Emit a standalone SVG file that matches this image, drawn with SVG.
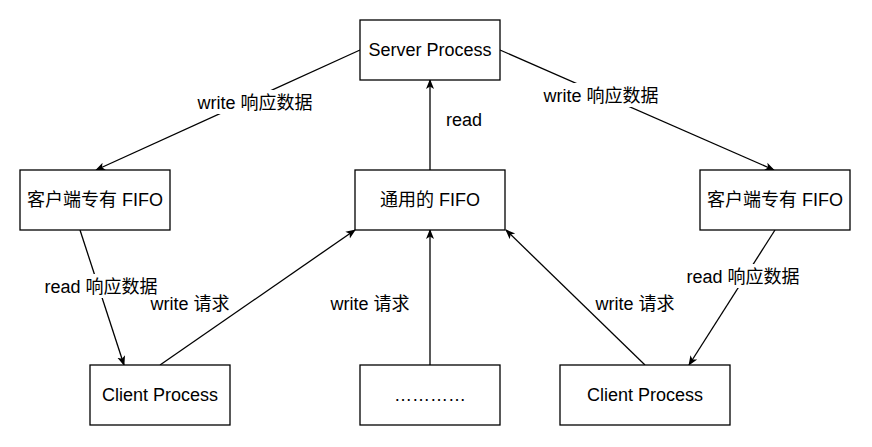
<svg xmlns="http://www.w3.org/2000/svg" width="872" height="447" viewBox="0 0 872 447">
<style>
.box{fill:#fff;stroke:#000;stroke-width:1.3}
.t{font-family:"Liberation Sans","Noto Sans CJK SC",sans-serif;font-size:18px;fill:#000;text-anchor:middle}
.e{fill:none;stroke:#000;stroke-width:1.3;marker-end:url(#arr)}
.bg{fill:#fff}
</style>
<defs>
<marker id="arr" viewBox="0 0 10 10" refX="9" refY="5" markerWidth="10" markerHeight="10" markerUnits="userSpaceOnUse" orient="auto">
<path d="M0,1 L10,5 L0,9 L2.5,5 Z" fill="#000"/>
</marker>
</defs>
<g id="connectors">
<line class="e" x1="360" y1="50" x2="96" y2="170"/>
<line class="e" x1="500" y1="50" x2="774" y2="170"/>
<line class="e" x1="430" y1="170" x2="430" y2="80"/>
<line class="e" x1="80" y1="230" x2="124" y2="365"/>
<line class="e" x1="160" y1="365" x2="355" y2="230"/>
<line class="e" x1="430" y1="365" x2="430" y2="230"/>
<line class="e" x1="645" y1="365" x2="506" y2="230"/>
<line class="e" x1="775" y1="230" x2="689" y2="365"/>
</g>
<g id="labels">
<rect class="bg" x="197" y="90" width="117" height="24"/>
<text class="t" x="255" y="109">write 响应数据</text>
<rect class="bg" x="543" y="83" width="117" height="24"/>
<text class="t" x="601" y="102">write 响应数据</text>
<text class="t" x="464" y="126">read</text>
<rect class="bg" x="44" y="274" width="115" height="24"/>
<text class="t" x="101" y="293">read 响应数据</text>
<rect class="bg" x="686" y="264" width="115" height="24"/>
<text class="t" x="743" y="283">read 响应数据</text>
<text class="t" x="190" y="310">write 请求</text>
<text class="t" x="370" y="310">write 请求</text>
<text class="t" x="635" y="310">write 请求</text>
</g>
<g id="server"><rect class="box" x="360" y="20" width="140" height="60"/><text class="t" x="430" y="56">Server Process</text></g>
<g id="fifo-left"><rect class="box" x="20" y="170" width="150" height="60"/><text class="t" x="95" y="206">客户端专有 FIFO</text></g>
<g id="fifo-common"><rect class="box" x="355" y="170" width="150" height="60"/><text class="t" x="430" y="206">通用的 FIFO</text></g>
<g id="fifo-right"><rect class="box" x="700" y="170" width="150" height="60"/><text class="t" x="775" y="206">客户端专有 FIFO</text></g>
<g id="client-left"><rect class="box" x="90" y="365" width="140" height="60"/><text class="t" x="160" y="401">Client Process</text></g>
<g id="client-mid"><rect class="box" x="360" y="365" width="140" height="60"/><text class="t" x="430" y="401">…………</text></g>
<g id="client-right"><rect class="box" x="560" y="365" width="170" height="60"/><text class="t" x="645" y="401">Client Process</text></g>
</svg>
